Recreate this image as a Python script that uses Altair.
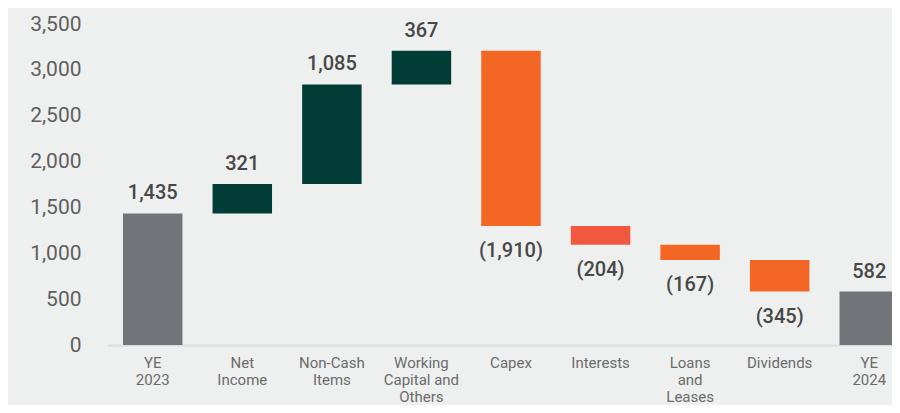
import altair as alt
import pandas as pd

# ---- data ----
categories = ["YE|2023", "Net|Income", "Non-Cash|Items", "Working|Capital and|Others",
              "Capex", "Interests", "Loans|and|Leases", "Dividends", "YE|2024"]
amounts = [1435, 321, 1085, 367, -1910, -204, -167, -345, 582]
kinds = ["total", "change", "change", "change", "change", "change", "change", "change", "total"]
y_ticks = [0, 500, 1000, 1500, 2000, 2500, 3000, 3500]

# ---- styles ----
bar_colors = ["#717479", "#023c36", "#023c36", "#023c36", "#f46624",
              "#f2583e", "#f46624", "#f46624", "#717479"]
FONT = "Roboto"

rows = []
running = 0
for cat, amt, kind in zip(categories, amounts, kinds):
    if kind == "total":
        lo, hi = 0, amt
        running = amt
    else:
        lo, hi = sorted([running, running + amt])
        running += amt
    label = f"{abs(amt):,}" if amt >= 0 else f"({abs(amt):,})"
    rows.append({"category": cat, "lo": lo, "hi": hi, "label": label,
                 "pos": "down" if amt < 0 else "up"})
df = pd.DataFrame(rows)

x_enc = alt.X(
    "category:N", sort=categories,
    scale=alt.Scale(range=[0, 793], paddingInner=0.336, paddingOuter=0.095, align=0.94),
    axis=alt.Axis(title=None, labelAngle=0, ticks=False, domainColor="#dcdedd",
                  domainWidth=2, labelExpr="split(datum.label, '|')",
                  labelFont=FONT, labelFontSize=15, labelColor="#6b6b6b",
                  labelPadding=10, labelLineHeight=17),
)

base = alt.Chart(df).encode(x=x_enc)

bars = base.mark_bar().encode(
    y=alt.Y("lo:Q", scale=alt.Scale(domain=[0, 3500], nice=False),
            axis=alt.Axis(values=y_ticks, format=",.0f", title=None, ticks=False,
                          domain=False, grid=False, labelFont=FONT,
                          labelFontSize=21, labelColor="#5e5e5e", labelPadding=26)),
    y2="hi:Q",
    color=alt.Color("category:N", scale=alt.Scale(domain=categories, range=bar_colors),
                    legend=None),
)

up = base.transform_filter("datum.pos == 'up'").mark_text(
    dy=-14, baseline="alphabetic", font=FONT, fontSize=20, fontWeight=500, color="#474747"
).encode(y="hi:Q", text="label:N")

down = base.transform_filter("datum.pos == 'down'").mark_text(
    dy=31, baseline="alphabetic", font=FONT, fontSize=20, fontWeight=500, color="#474747"
).encode(y="lo:Q", text="label:N")

chart = alt.layer(bars, up, down).properties(
    width=785, height=321,
    autosize=alt.AutoSizeParams(type="none"),
    padding={"left": 99, "top": 16, "right": 0, "bottom": 60},
    background="#eef0ef",
).configure_view(stroke=None)

chart.save("out.html", embed_options={"renderer": "svg", "actions": False})
